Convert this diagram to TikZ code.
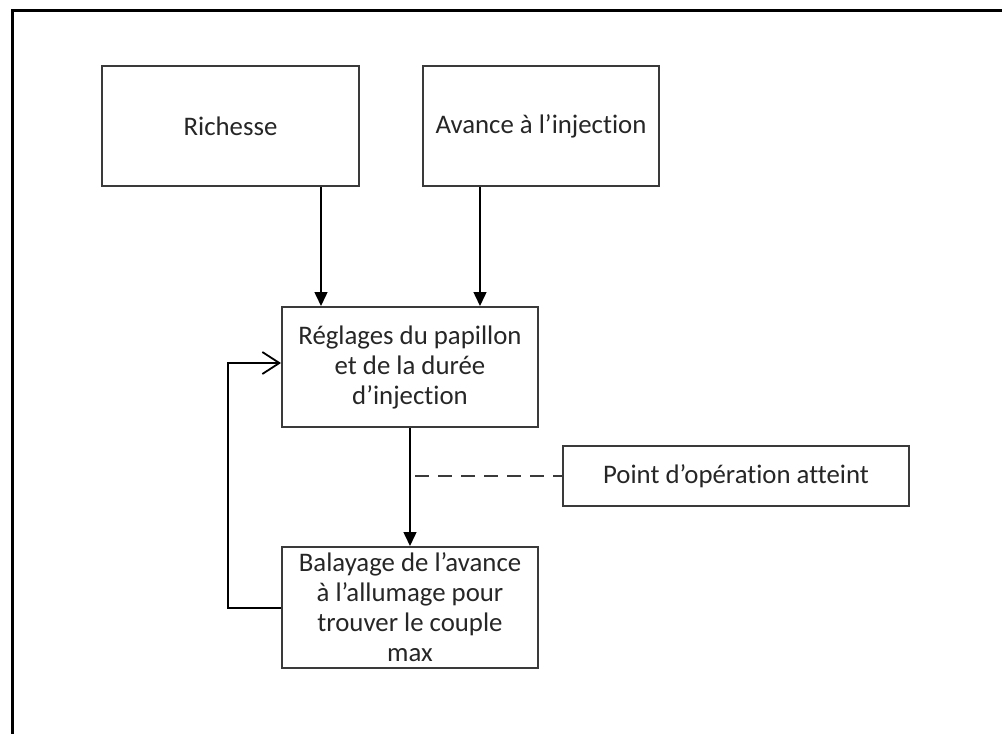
\documentclass[tikz,border=0pt]{standalone}
\usepackage{fontspec}
\setmainfont[Ligatures=NoCommon]{Carlito}
\usetikzlibrary{arrows.meta}
\definecolor{boxline}{HTML}{3A3A3A}
\definecolor{txt}{HTML}{262626}
\tikzset{
  box/.style={draw=boxline, line width=2pt, inner sep=0pt, align=center, text=txt,
    font=\fontsize{26.8}{30}\selectfont},
  arr/.style={draw=black, line width=1.5pt, -{Triangle[length=14pt,width=13pt]}},
  fb/.style={draw=black, line width=2pt, -{Straight Barb[length=17pt,width=22pt,line width=1.8pt]}},
  dashline/.style={draw=boxline, line width=1.5pt, dash pattern=on 14pt off 9pt}
}
\begin{document}
\begin{tikzpicture}[x=1pt,y=-1pt]
\useasboundingbox (0,0) rectangle (1002,734);
\draw[line width=3pt, line cap=rect] (1002,10) -- (12,10) -- (12,734);
\node[box, minimum width=257pt, minimum height=120pt] (rich) at (230.5,126) {Richesse};
\node[box, minimum width=236pt, minimum height=120pt] (av) at (541,126) {Avance à l’injection};
\node[box, minimum width=256pt, minimum height=120pt] (regl) at (410,367) {Réglages du papillon\\et de la durée\\d’injection};
\node[box, minimum width=256pt, minimum height=121pt] (bal) at (410,607.5) {Balayage de l’avance\\à l’allumage pour\\trouver le couple\\max};
\node[box, minimum width=346pt, minimum height=60pt] (pt) at (736,476) {Point d’opération atteint};
\draw[arr] ([xshift=90.5pt]rich.south) -- ([xshift=-89pt]regl.north);
\draw[arr] ([xshift=-61pt]av.south) -- ([xshift=70pt]regl.north);
\draw[arr] (regl.south) -- (bal.north);
\coordinate (dstart) at (415,476);
\draw[dashline] (dstart) -- (pt.west);
\draw[fb] (bal.west) -- ++(-53,0) |- ([yshift=4pt]regl.west);
\end{tikzpicture}
\end{document}
